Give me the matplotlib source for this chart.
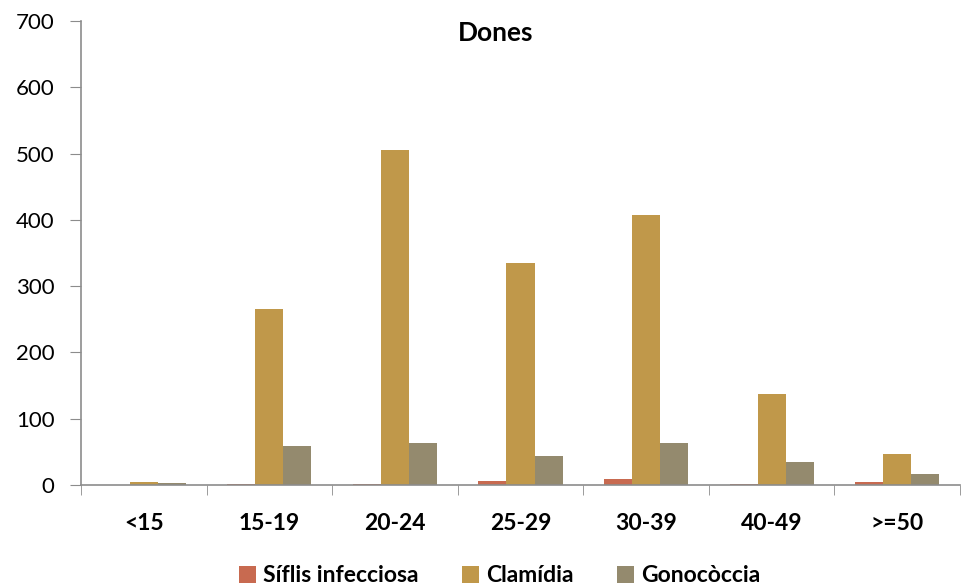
import matplotlib
matplotlib.use("Agg")
import matplotlib.pyplot as plt
import numpy as np

# data
categories = ['<15', '15-19', '20-24', '25-29', '30-39', '40-49', '>=50']
sifilis = [0, 2, 2, 6, 9, 2, 5]
clamidia = [4, 265, 505, 335, 407, 137, 47]
gonococcia = [3, 59, 63, 43, 63, 34, 16]
series_names = ['Síflis infecciosa', 'Clamídia', 'Gonocòccia']
colors = ['#C86A50', '#C0984A', '#948A6E']

plt.rcParams['font.family'] = ['Lato', 'DejaVu Sans']

fig = plt.figure(figsize=(9.61, 5.88), dpi=100)
ax = fig.add_axes([81 / 961, 1 - 485 / 588, 879 / 961, 464 / 588])

x = np.arange(len(categories))
w = 0.223
for i, (vals, name, c) in enumerate(zip([sifilis, clamidia, gonococcia], series_names, colors)):
    ax.bar(x + (i - 1) * w, vals, width=w, color=c, label=name, linewidth=0)

ax.set_xlim(-0.5, len(categories) - 0.5)
ax.set_ylim(0, 700)
ax.set_yticks(range(0, 701, 100))
ax.tick_params(axis='y', labelsize=16, length=8, color='#8C8C8C', pad=11)
ax.set_xticks(x)
ax.set_xticklabels(categories, fontsize=16.5, fontweight='bold')
ax.tick_params(axis='x', length=0, pad=20)
ax.set_xticks(np.arange(-0.5, len(categories)), minor=True)
ax.tick_params(axis='x', which='minor', length=7, color='#8C8C8C')

for s in ['top', 'right']:
    ax.spines[s].set_visible(False)
for s in ['left', 'bottom']:
    ax.spines[s].set_color('#8C8C8C')
    ax.spines[s].set_linewidth(1.2)

ax.text(0.472, 0.974, 'Dones', transform=ax.transAxes, ha='center', va='center',
        fontsize=19, fontweight='bold')

leg = fig.legend(loc='center', bbox_to_anchor=(0.52, 1 - 576 / 588), ncol=3,
                 frameon=False, prop={'size': 16.5, 'weight': 'bold'},
                 handlelength=0.75, handleheight=0.75, handletextpad=0.3,
                 columnspacing=1.9)

fig.savefig('out.png', dpi=100)
